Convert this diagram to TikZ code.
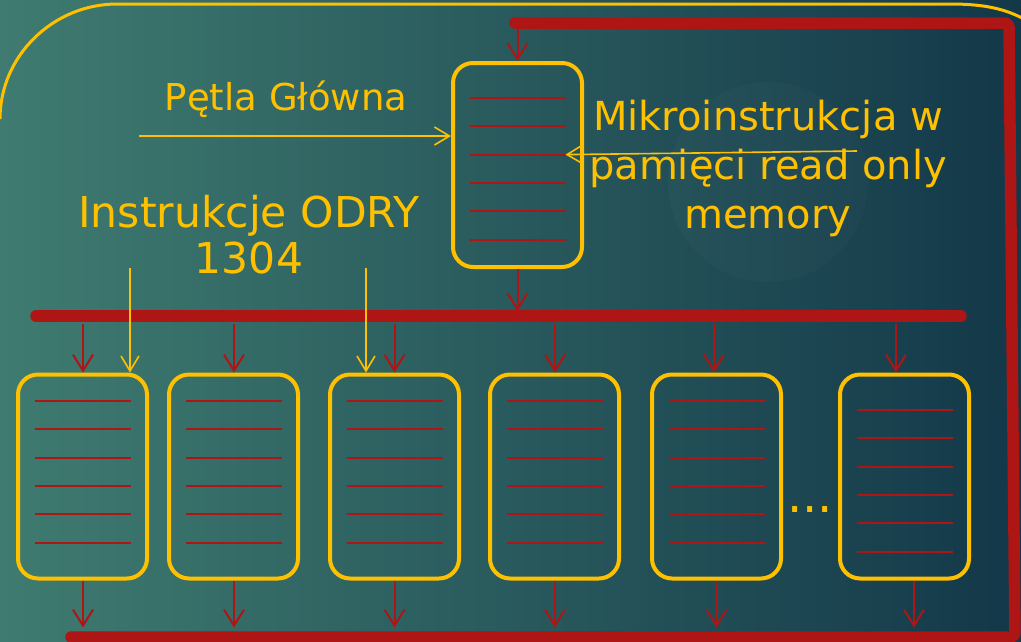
\documentclass[tikz,border=0pt]{standalone}
\usepackage{fontspec}
\setmainfont{DejaVu Sans}
\usetikzlibrary{arrows.meta,calc}
\definecolor{ylw}{HTML}{FFC000}
\definecolor{rd}{HTML}{AE1515}
\definecolor{bgL}{HTML}{3F7B70}
\definecolor{bgM}{HTML}{2D6361}
\definecolor{bgR}{HTML}{133849}
\newcommand\memlines[2]{%
  \foreach \k in {0,...,5}{\draw[rline] ($(#1)+(-48,#2+\k*28.3)$) -- ($(#1)+(48,#2+\k*28.3)$);}}
\begin{document}
\begin{tikzpicture}[x=1pt,y=-1pt,
  membox/.style={draw=ylw, line width=4pt, rounded corners=20pt,
    minimum width=129pt, minimum height=204pt, inner sep=0pt},
  rline/.style={draw=rd, line width=2pt},
  rarr/.style={draw=rd, line width=2pt, -{Straight Barb[length=16pt,width=20pt]}},
  yarr/.style={draw=ylw, line width=1.6pt, -{Straight Barb[length=15pt,width=18pt]}},
  bus/.style={draw=rd, line width=11.5pt, line cap=round, line join=round},
  frame/.style={draw=ylw, line width=3pt},
  txt/.style={text=ylw, font=\fontsize{40}{49}\selectfont, align=center, inner sep=0pt}]
\useasboundingbox (0,0) rectangle (1021,641);
\clip (0,0) rectangle (1021,641);
% background
\shade[left color=bgL, middle color=bgM, right color=bgR] (0,0) rectangle (1021,641);
\fill[white, opacity=0.02] (768,182) circle (100);
% coordinates
\coordinate (rtop) at (515,23);
\coordinate (busL) at (36,316);
\coordinate (busR) at (961,316);
% red frame and bus
\draw[bus, rounded corners=4pt] (rtop) -- (1009,23) -- (1015,637) -- (71,637);
\draw[bus] (busL) -- (busR);
% yellow frame
\draw[frame] (0,119) .. controls (0,55.5) and (53.5,4) .. (117,4)
  -- (950,4) .. controls (985,4) and (1005,9) .. (1024,19);
% boxes
\node[membox] (main) at (517.5,165) {};
\node[membox] (b1) at (82.5,476.5) {};
\node[membox] (b2) at (233.5,476.5) {};
\node[membox] (b3) at (394.5,476.5) {};
\node[membox] (b4) at (554.5,476.5) {};
\node[membox] (b5) at (716.5,476.5) {};
\node[membox] (b6) at (904.5,476.5) {};
\memlines{main}{-67}
\memlines{b1}{-75.5}
\memlines{b2}{-75.5}
\memlines{b3}{-75.5}
\memlines{b4}{-75.5}
\memlines{b5}{-75.5}
\memlines{b6}{-66.5}
\coordinate (m3e) at ($(main)+(48,-10.4)$);
% red arrows
\draw[rarr] (main.north |- rtop) -- (main.north);
\draw[rarr] (main.south) -- ($(main.south)+(0,42)$);
\foreach \b/\s in {b1/0.5,b2/0.5,b3/0,b4/0.5,b5/-2.5,b6/-8.5}{
  \draw[rarr] ($(\b.north)+(\s,-49)$) -- ($(\b.north)+(\s,0)$);}
\foreach \b/\s in {b1/0.5,b2/0.5,b3/0,b4/0.5,b5/0,b6/9.5}{
  \draw[rarr] ($(\b.south)+(\s,0)$) -- ($(\b.south)+(\s,47)$);}
% yellow arrows
\coordinate (ya) at (130,268);
\coordinate (yb) at (366,268);
\coordinate (ps) at (139,136);
\coordinate (ms) at (857,151);
\draw[yarr] (ya) -- (ya |- b1.north);
\draw[yarr] (yb) -- (yb |- b3.north);
\draw[yarr] (ps) -- (ps -| main.west);
\draw[yarr] (ms) -- (m3e);
% texts
\node[txt, font=\fontsize{37}{49}\selectfont, anchor=base] (pg) at (286,110) {Pętla Główna};
\node[txt, font=\fontsize{42.5}{46}\selectfont, anchor=base] (ins) at (249,273) {Instrukcje ODRY\\1304};
\node[txt, anchor=base] (mik) at (768,228) {Mikroinstrukcja w\\pamięci read only\\memory};
\node[text=ylw, font=\fontsize{48}{48}\selectfont, anchor=base, inner sep=0pt] (dots) at (810,512) {...};
\end{tikzpicture}
\end{document}
